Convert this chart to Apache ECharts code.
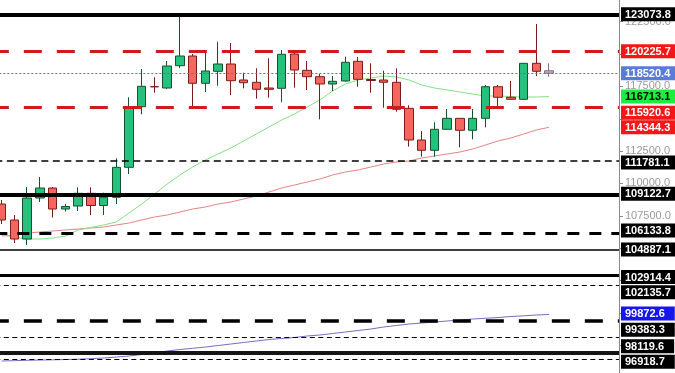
<!DOCTYPE html>
<html><head><meta charset="utf-8">
<script src="https://cdn.jsdelivr.net/npm/echarts@6/dist/echarts.min.js"></script>
<style>html,body{margin:0;padding:0;background:#fff}#c{width:675px;height:373px}</style>
</head><body><div id="c"></div>
<script>
// ---- data ----
const opens  = [108410,107173,105704,108874,109647,108023,108255,109237,108294,108928,111247,115931,117480,117377,119100,119850,117740,118668,119232,117995,117817,117377,117353,120005,118745,118250,117686,117918,119441,118034,117995,117817,115807,113357,112561,114184,115034,114107,115034,117477,116658,116503,119286,118714];
const closes = [107173,105704,108874,109647,108023,108217,109237,108294,108928,111247,115931,117508,117470,119077,119850,117740,118691,119232,117941,117786,117276,117276,119982,118768,118250,117686,117895,119363,118049,117956,117817,115730,113357,112561,114184,115034,114107,115034,117477,116658,116503,119286,118668,118520.4];
const lows   = [106864,105395,105240,108564,107366,107830,107869,107559,107559,108410,110729,115344,117013,117299,118923,115885,117067,117554,116835,117353,116549,116627,116271,117400,117222,114957,117145,117864,117477,117013,115854,115545,112839,112066,112066,114150,112793,113411,114339,115885,116488,116480,118304,118250];
const highs  = [108719,107559,109724,110497,109724,108410,109701,109701,109283,111942,116658,118845,118204,119464,123073.8,120005,120314,120956,120855,118559,118899,119672,120314,120183,119464,118459,118304,119796,119773,119286,118714,118899,116039,114053,114725,115753,115050,115753,117608,117608,117918,119309,122324,119286];
const maGreen = [106013,105859,105704,105704,105781,105936,106400,106593,106786,107018,107714,108410,109183,109956,110651,111270,111811,112275,112739,113280,113821,114362,114903,115367,115908,116449,117145,117686,117995,118150,118304,118227,117995,117608,117377,117222,117067,116913,116758,116758,116720,116681,116681,116713.1];
const maRed = [105936,106013,106168,106245,106323,106400,106477,106555,106632,106786,106941,107173,107405,107559,107791,108023,108178,108410,108564,108797,109028,109338,109646,109879,110110,110343,110651,110884,111038,111270,111502,111656,111734,111966,112120,112275,112429,112661,112971,113280,113512,113821,114130,114344.3];
const maBlue = [96274,96305,96328,96351,96367,96390,96413,96452,96506,96583,96661,96777,96893,97047,97163,97256,97356,97472,97588,97704,97820,97936,98013,98091,98207,98284,98399,98515,98631,98747,98902,99018,99134,99211,99288,99366,99443,99520,99575,99636,99714,99768,99830,99872.6];
const levels = [123073.8,120225.7,118520.4,115920.6,111781.1,109122.7,106133.8,104887.1,102914.4,102135.7,99383.3,98119.6,96918.7,96430];
const emptySlots = 5;
const tickInterval = 2500;

// ---- styles (kept apart from the data) ----
const RED = '#f41717', DRED = '#cf1a1e';
const levelStyles = [
  {c:'#000', w:4, t:'solid', bg:'#000', fg:'#fff', dy:0},
  {c:DRED, w:3, t:[18,15], off:4.5, bg:RED, fg:'#fff', dy:0},
  {c:'#5b73a6', w:1, t:[2,2], bg:'#5b7bd8', fg:'#fff', dy:0},
  {c:DRED, w:3, t:[18,15], off:4.5, bg:RED, fg:'#fff', dy:6},
  {c:'#000', w:1.5, t:[7,4.5], bg:'#000', fg:'#fff', dy:2},
  {c:'#000', w:4, t:'solid', bg:'#000', fg:'#fff', dy:-1},
  {c:'#000', w:3, t:[12,10], bg:'#000', fg:'#fff', dy:-3},
  {c:'#000', w:1.5, t:'solid', bg:'#000', fg:'#fff', dy:0},
  {c:'#000', w:3, t:'solid', bg:'#000', fg:'#fff', dy:2},
  {c:'#000', w:1, t:[5,3.5], bg:'#000', fg:'#fff', dy:7},
  {c:'#000', w:3.5, t:[18,15], off:4.5, bg:'#000', fg:'#fff', dy:9},
  {c:'#000', w:1, t:[5,3.5], bg:'#000', fg:'#fff', dy:9},
  {c:'#151515', w:4, t:'solid', bg:'#000', fg:'#fff', dy:9},
  {c:'#000', w:1, t:[5,3.5], bg:null}
];
const maSpec = [
  {data: maGreen, c:'#86e086', bg:'#1cee3e', fg:'#000', dy:0},
  {data: maRed,   c:'#e48484', bg:RED, fg:'#fff', dy:0},
  {data: maBlue,  c:'#7070c4', bg:'#1616ee', fg:'#fff', dy:-1}
];
const FONT = '"Liberation Sans", Arial, sans-serif';

function priceLabel(text, bg, fg, dy) {
  return {
    show: true, position: 'end', distance: 2,
    formatter: '{b|' + text + '}',
    padding: dy >= 0 ? [2*dy,0,0,0] : [0,0,-2*dy,0],
    rich: { b: { backgroundColor: bg, color: fg, padding: [2,10,1,4], fontSize: 11, fontWeight: 'bold', fontFamily: FONT, lineHeight: 12 } }
  };
}

const n = opens.length;
const cats = Array.from({length: n + emptySlots}, (_, i) => 'c' + i);
const candleData = opens.map((o, i) => {
  const item = { value: [o, closes[i], lows[i], highs[i]] };
  if (i === n - 1) item.itemStyle = { color: '#d9a3b6', borderColor: '#7e7191', color0: '#d9a3b6', borderColor0: '#7e7191' };
  return item;
});

const markData = levels.map((v, i) => {
  const s = levelStyles[i];
  const d = { yAxis: v, lineStyle: { color: s.c, width: s.w, type: s.t, dashOffset: s.off || 0 } };
  d.label = s.bg ? priceLabel(v.toFixed(1), s.bg, s.fg, s.dy) : { show: false };
  return d;
});
maSpec.forEach(m => {
  const last = m.data[m.data.length - 1];
  markData.push({ yAxis: last, lineStyle: { color: 'rgba(0,0,0,0)', width: 0 }, label: priceLabel(last.toFixed(1), m.bg, m.fg, m.dy) });
});

const chart = echarts.init(document.getElementById('c'), null, { renderer: 'canvas' });
chart.setOption({
  animation: false,
  backgroundColor: '#fff',
  grid: { left: -4.66, right: 56, top: -10.62, bottom: -4.5, containLabel: false, outerBoundsMode: 'none' },
  xAxis: { type: 'category', data: cats, boundaryGap: true, show: false },
  yAxis: {
    type: 'value', position: 'right', min: 95000, max: 125000, interval: tickInterval,
    axisLine: { show: true, lineStyle: { color: '#8a8a8a', width: 1 } },
    axisTick: { show: true, length: 4, lineStyle: { color: '#8a8a8a' } },
    splitLine: { show: false },
    axisLabel: { color: '#9a9a9a', fontSize: 11, fontFamily: FONT, margin: 6, showMinLabel: false, showMaxLabel: false, formatter: v => v.toFixed(1) }
  },
  series: [
    { type: 'line', data: maBlue, showSymbol: false, z: 1, lineStyle: { color: maSpec[2].c, width: 1 } },
    { type: 'line', data: maRed, showSymbol: false, z: 1, lineStyle: { color: maSpec[1].c, width: 1 } },
    { type: 'line', data: maGreen, showSymbol: false, z: 1, lineStyle: { color: maSpec[0].c, width: 1 } },
    { type: 'line', data: [], z: 2, silent: true,
      markLine: { silent: true, symbol: ['none','none'], animation: false, data: markData } },
    { type: 'candlestick', data: candleData, barWidth: 9, z: 3,
      itemStyle: { color: '#25c27d', color0: '#f5665e', borderColor: '#17502f', borderColor0: '#7e1c1c', borderWidth: 1 } }
  ]
});
</script></body></html>
